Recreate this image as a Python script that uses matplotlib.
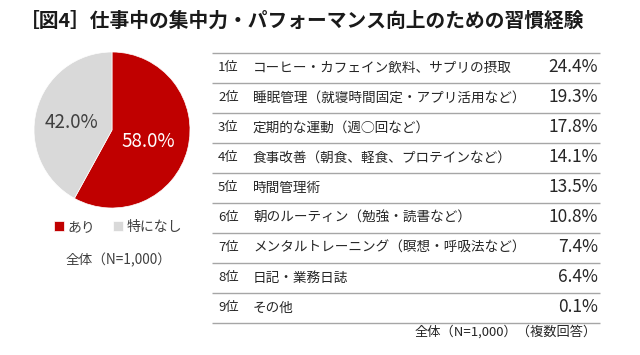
import matplotlib.pyplot as plt

plt.rcParams['font.family'] = ['Noto Sans CJK JP', 'DejaVu Sans']

# pie data
pie_labels = ['あり', '特になし']
pie_values = [58.0, 42.0]
pie_colors = ['#C00000', '#D9D9D9']

# ranking table data
ranks = ['1位', '2位', '3位', '4位', '5位', '6位', '7位', '8位', '9位']
items = ['コーヒー・カフェイン飲料、サプリの摂取',
         '睡眠管理（就寝時間固定・アプリ活用など）',
         '定期的な運動（週◯回など）',
         '食事改善（朝食、軽食、プロテインなど）',
         '時間管理術',
         '朝のルーティン（勉強・読書など）',
         'メンタルトレーニング（瞑想・呼吸法など）',
         '日記・業務日誌',
         'その他']
shares = [24.4, 19.3, 17.8, 14.1, 13.5, 10.8, 7.4, 6.4, 0.1]

W, H = 640, 355
fig = plt.figure(figsize=(W / 100, H / 100), dpi=100)

# full-figure axes in pixel coordinates for text and table
ax = fig.add_axes([0, 0, 1, 1])
ax.set_xlim(0, W)
ax.set_ylim(H, 0)
ax.axis('off')

ax.text(20, 21, '［図4］仕事中の集中力・パフォーマンス向上のための習慣経験',
        fontsize=14.2, fontweight='bold', color='#1a1a1a', va='center', ha='left')

# pie
cx, cy, r = 112, 130, 78
pax = fig.add_axes([(cx - r) / W, (H - cy - r) / H, 2 * r / W, 2 * r / H])
wedges, _ = pax.pie(pie_values, colors=pie_colors, startangle=90, counterclock=False,
                    radius=1, wedgeprops=dict(linewidth=0.5, edgecolor='white'))
pax.set_xlim(-1, 1)
pax.set_ylim(-1, 1)
pax.set_aspect('equal')
pax.axis('off')
pax.text(0.46, -0.15, f'{pie_values[0]:.1f}%', color='white', fontsize=13.5,
         ha='center', va='center')
pax.text(-0.52, 0.10, f'{pie_values[1]:.1f}%', color='#404040', fontsize=13.5,
         ha='center', va='center')

# legend below the pie
fig.legend(wedges, pie_labels, loc='center', bbox_to_anchor=(118 / W, 1 - 227 / H),
           ncol=2, frameon=False, fontsize=10, handlelength=0.7, handleheight=0.7,
           handletextpad=0.25, columnspacing=1.3, labelcolor='#404040',
           borderpad=0, borderaxespad=0)
ax.text(118, 260, '全体（N=1,000）', color='#404040', fontsize=9.8, va='center', ha='center')

# table
top, row_h = 52.5, 30
x0, x1 = 212, 600
for i in range(len(ranks) + 1):
    ax.hlines(top + i * row_h, x0, x1, color='#A6A6A6', linewidth=1)
for i, (rk, it, v) in enumerate(zip(ranks, items, shares)):
    y = top + (i + 0.5) * row_h
    ax.text(218, y, rk, fontsize=9.5, color='#262626', va='center', ha='left')
    ax.text(253, y, it, fontsize=9.8, color='#262626', va='center', ha='left')
    ax.text(598, y, f'{v:.1f}%', fontsize=12.5, color='#262626', va='center', ha='right')

ax.text(597, 332, '全体（N=1,000）（複数回答）', fontsize=9.5, color='#262626',
        va='center', ha='right')

fig.savefig('out.png', dpi=100, facecolor='white')
